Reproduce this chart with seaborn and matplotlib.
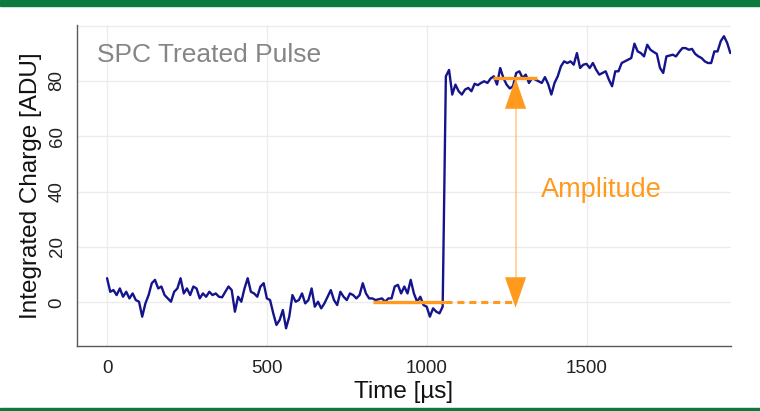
import numpy as np
import pandas as pd
import matplotlib
matplotlib.use("Agg")
import matplotlib.pyplot as plt
from matplotlib.patches import Rectangle
from matplotlib.ticker import MultipleLocator
import seaborn as sns

# Integrated charge of one SPC-treated pulse, one sample every 10 us
sample_step_us = 10
charge_adu = [
    8.7, 3.8, 4.4, 2.6, 5.0, 2.0, 3.8, 1.4, 3.2, 0.8,
    0.2, -5.2, -0.4, 2.6, 6.9, 8.1, 5.0, 5.7, 2.6, 1.4,
    0.2, 3.8, 5.0, 8.7, 3.2, 5.0, 2.6, 5.7, 5.0, 1.4,
    3.2, 2.0, 3.8, 2.6, 3.2, 2.0, 1.8, 3.8, 5.7, 4.4,
    -3.4, 2.0, 0.2, 5.0, 8.7, 3.8, 3.2, 2.0, 5.7, 6.9,
    1.4, 0.8, -4.0, -8.2, -6.4, -2.8, -9.4, -5.2, 2.6, 0.2,
    0.8, 3.2, -0.4, 0.8, 5.0, -1.6, 0.2, -2.2, -0.4, 2.0,
    4.4, 0.8, -1.0, 3.8, 2.0, 0.8, 3.2, 2.6, 1.4, 2.6,
    6.9, 3.2, 1.4, 1.4, 0.8, 1.1, 1.4, 0.2, 1.4, 1.4,
    5.7, 6.3, 3.2, 5.7, 3.2, 8.1, 3.2, 0.2, 2.0, -1.0,
    -1.6, -5.2, -2.2, -3.4, -4.0, -1.6, 81.7, 84.0, 75.1, 78.7,
    76.3, 75.1, 76.9, 77.5, 76.3, 79.0, 78.5, 79.3, 79.9, 79.3,
    80.9, 81.7, 78.7, 84.7, 81.1, 78.7, 77.3, 78.1, 82.9, 83.5,
    81.1, 82.3, 79.3, 81.1, 80.5, 79.9, 79.3, 81.4, 78.9, 75.1,
    79.3, 81.7, 85.3, 87.1, 86.5, 87.1, 85.9, 90.1, 84.7, 85.9,
    86.2, 84.7, 86.5, 84.1, 82.3, 82.9, 83.5, 80.5, 78.1, 83.5,
    83.5, 86.5, 87.1, 87.7, 88.3, 93.5, 90.7, 90.1, 88.9, 93.1,
    91.3, 90.5, 89.8, 84.7, 82.9, 88.9, 89.2, 89.5, 88.9, 90.5,
    91.9, 91.9, 91.3, 91.6, 89.8, 88.9, 88.3, 87.1, 86.5, 86.5,
    90.7, 90.7, 94.4, 96.2, 93.8, 90.1,
]
time_us = np.arange(len(charge_adu)) * sample_step_us

# Amplitude measurement: baseline and plateau levels and their windows
baseline_level = 0.0
baseline_window = [832, 1057]
plateau_level = 81.0
plateau_window = [1208, 1345]
arrow_time = 1278

x_ticks = [0, 500, 1000, 1500]
y_ticks = [0, 20, 40, 60, 80, 100]
y_tick_labels = ["0", "20", "40", "60", "80", ""]

df = pd.DataFrame({"Time [µs]": time_us, "Integrated Charge [ADU]": charge_adu})

sns.set_theme(style="white")
plt.rcParams["font.family"] = ["Liberation Sans", "DejaVu Sans"]

trace_color = "#14148c"
orange = "#ff9a1f"
grid_color = "#ececec"
spine_color = "#5a5a5a"

fig = plt.figure(figsize=(7.6, 4.11), dpi=100)
ax = fig.add_axes([0.1009, 0.1582, 0.8605, 0.7810])

sns.lineplot(data=df, x="Time [µs]", y="Integrated Charge [ADU]",
             color=trace_color, lw=1.7, ax=ax, zorder=3)

ax.set_xlim(-95, 1951)
ax.set_ylim(-15.8, 100.25)
ax.set_xticks(x_ticks)
ax.set_yticks(y_ticks)
ax.set_yticklabels(y_tick_labels)
ax.xaxis.set_minor_locator(MultipleLocator(100))
ax.yaxis.set_minor_locator(MultipleLocator(4))

ax.grid(True, which="major", color=grid_color, lw=1.0, zorder=0)
for side in ("top", "right"):
    ax.spines[side].set_visible(False)
for side in ("left", "bottom"):
    ax.spines[side].set_color(spine_color)
    ax.spines[side].set_linewidth(1.0)

ax.tick_params(axis="both", which="major", direction="out", length=4,
               width=0.9, color=spine_color, labelsize=13.5, labelcolor="#222222")
ax.tick_params(axis="both", which="minor", direction="out", length=2.5,
               width=0.8, color=spine_color)
ax.tick_params(axis="x", which="major", pad=6)
ax.tick_params(axis="y", which="major", pad=4)
for lab in ax.get_yticklabels():
    lab.set_rotation(90)
    lab.set_va("center")
    lab.set_ha("right")

ax.set_xlabel("Time [µs]", fontsize=17.5, color="#111111", labelpad=3)
ax.set_ylabel("Integrated Charge [ADU]", fontsize=17.5, color="#111111", labelpad=5)

# Baseline and plateau level markers
ax.plot(baseline_window, [baseline_level, baseline_level], color=orange, lw=2.4,
        solid_capstyle="butt", zorder=4)
ax.plot([baseline_window[1], arrow_time], [baseline_level, baseline_level],
        color=orange, lw=2.2, dashes=(2.3, 1.6), zorder=4)
ax.plot(plateau_window, [plateau_level, plateau_level], color=orange, lw=2.4,
        solid_capstyle="butt", zorder=4)

# Double-headed amplitude arrow: faint shaft with solid heads
ax.plot([arrow_time, arrow_time], [baseline_level, plateau_level],
        color=orange, alpha=0.45, lw=1.3, zorder=2)
head = dict(arrowstyle="-|>,head_length=1.1,head_width=0.38", mutation_scale=20,
            lw=0, color=orange, shrinkA=0, shrinkB=0)
ax.annotate("", xy=(arrow_time, plateau_level), xytext=(arrow_time, plateau_level - 12),
            arrowprops=head, zorder=5)
ax.annotate("", xy=(arrow_time, baseline_level - 2), xytext=(arrow_time, baseline_level + 10),
            arrowprops=head, zorder=5)

ax.text(1358, 40.6, "Amplitude", color=orange, fontsize=19.5, ha="left", va="center")
ax.text(-31, 86.8, "SPC Treated Pulse", color="#858585", fontsize=19,
        ha="left", va="baseline")

# Green frame bands
green = "#0c7a3c"
fig.patches.append(Rectangle((0, 1 - 6 / 411), 1, 6 / 411, transform=fig.transFigure,
                             color=green, zorder=10))
fig.patches.append(Rectangle((0, 0), 1, 3 / 411, transform=fig.transFigure,
                             color=green, zorder=10))

fig.savefig("out.png", dpi=100)
